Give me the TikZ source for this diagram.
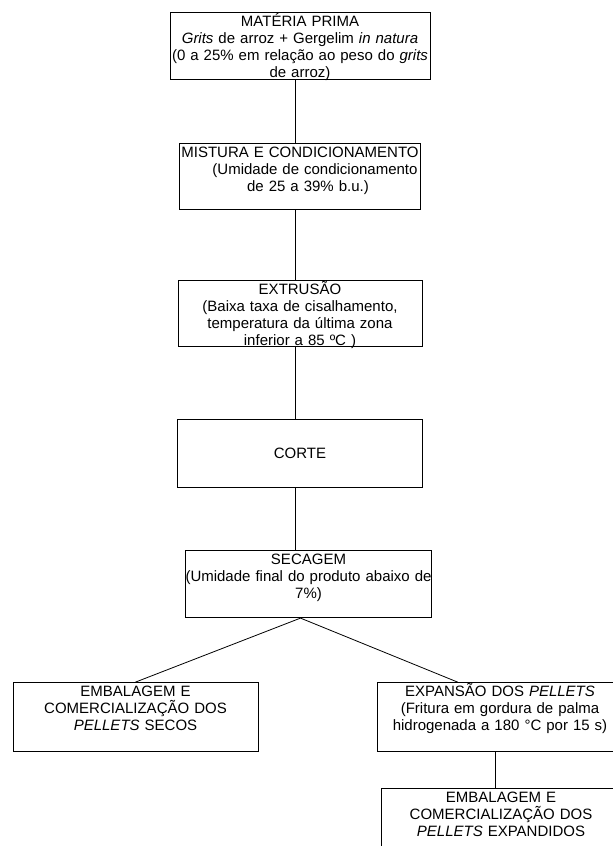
\documentclass[tikz,border=0pt]{standalone}
\usepackage{fontspec}
\setmainfont{Liberation Sans}
\usetikzlibrary{positioning}
\tikzset{
  etapa/.style={rectangle,draw,line width=0.8pt,align=center,inner xsep=0pt,
                inner ysep=3pt,text height=11pt,font=\fontsize{15}{17}\selectfont},
  lig/.style  ={line width=0.8pt}
}
\begin{document}
\begin{tikzpicture}[x=1pt,y=-1pt]
  \useasboundingbox (0,0) rectangle (613,846);
  \coordinate (tronco) at (295,0);
  \coordinate (ramo)   at (495,0);

  \node (materia)  [etapa, text width=260pt, text depth=50pt] at (300,46)
        {MATÉRIA PRIMA\\ \textit{Grits} de arroz + Gergelim \textit{in natura}\\
         (0 a 25\% em relação ao peso do \textit{grits}\\ de arroz)};
  \node (mistura)  [etapa, text width=241pt, text depth=49pt, below=63pt of materia]
        {MISTURA E CONDICIONAMENTO\\ \hspace*{30pt}(Umidade de condicionamento\\
         \hspace*{16pt}de 25 a 39\% b.u.)};
  \node (extrusao) [etapa, text width=244pt, text depth=49pt, below=70pt of mistura]
        {EXTRUSÃO\\ (Baixa taxa de cisalhamento,\\ temperatura da última zona\\
         inferior a 85 ºC )};
  \node (corte)    [etapa, minimum width=245pt, minimum height=68pt, below=72pt of extrusao]
        {CORTE};
  \node (secagem)  [etapa, text width=246pt, text depth=50pt, below=63pt of corte, xshift=8.5pt]
        {SECAGEM\\ (Umidade final do produto abaixo de\\ 7\%)};
  \node (embsecos) [etapa, text width=245pt, text depth=52pt, below=64pt of secagem, xshift=-173pt]
        {EMBALAGEM E\\ COMERCIALIZAÇÃO DOS\\ \textit{PELLETS} SECOS};
  \node (expansao) [etapa, text width=246pt, text depth=52pt, below=64pt of secagem, xshift=191.5pt]
        {EXPANSÃO DOS \textit{PELLETS}\\ (Fritura em gordura de palma\\
         hidrogenada a 180 °C por 15 s)};
  \node (embexp)   [etapa, text width=240pt, text depth=53pt, below=36pt of expansao, xshift=1pt]
        {EMBALAGEM E\\ COMERCIALIZAÇÃO DOS\\ \textit{PELLETS} EXPANDIDOS};

  \draw [lig] (materia.south -| tronco)  -- (mistura.north -| tronco);
  \draw [lig] (mistura.south -| tronco)  -- (extrusao.north -| tronco);
  \draw [lig] (extrusao.south -| tronco) -- (corte.north -| tronco);
  \draw [lig] (corte.south -| tronco)    -- (secagem.north -| tronco);
  \draw [lig] ([xshift=-8pt]secagem.south) -- (embsecos.north);
  \draw [lig] ([xshift=-8pt]secagem.south) -- ([xshift=81pt]expansao.north west);
  \draw [lig] (expansao.south -| ramo)   -- (embexp.north -| ramo);
\end{tikzpicture}
\end{document}
